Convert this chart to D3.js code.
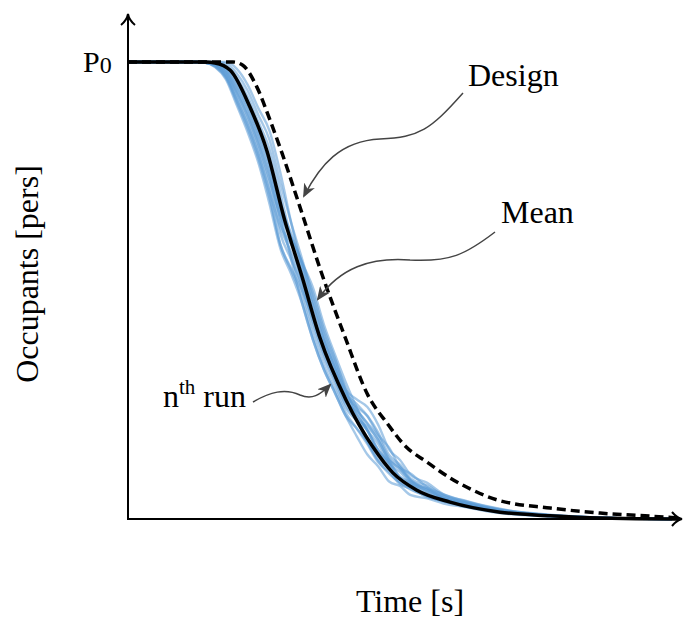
<!doctype html>
<html>
<head>
<script src="https://cdn.jsdelivr.net/npm/d3@7"></script>
<style>
  body { margin: 0; background: #fff; }
  text { font-family: "Liberation Serif", "Times New Roman", serif; fill: #000; }
</style>
</head>
<body>
<svg id="chart" width="683" height="619"></svg>
<script>
// occupants as % of P0, time in arbitrary units (0..100)
const meanTime = [0, 14.2, 16.0, 18.8, 22.4, 25.5, 28.8, 32.0, 35.3, 40.1, 45.0, 48.7, 53.1, 59.2, 68.4, 77.6, 86.8, 100, 101.5];
const meanOcc  = [100, 100, 99.8, 98.2, 90.2, 80.7, 65.4, 53.0, 39.6, 26.0, 15.8, 10.1, 6.3, 3.7, 1.5, 0.7, 0.2, 0, 0];

const designTime = [0, 19.3, 21.1, 23.7, 26.1, 28.3, 31.6, 35.7, 39.9, 44.1, 47.6, 51.1, 54.9, 59.2, 63.4, 67.8, 77.6, 86.8, 99.1, 101.5];
const designOcc  = [100, 100, 99.3, 94.5, 87.3, 80.1, 68.3, 53.4, 39.8, 27.1, 21.0, 15.8, 12.5, 9.0, 6.3, 4.2, 2.4, 1.3, 0.4, 0.2];

// single simulation runs, sampled on a common time grid
const runTime = [0, 12, 14, 16, 18, 20, 22, 24, 26, 28, 30, 32, 34, 36, 38, 40, 42, 44, 46, 48, 50, 52, 55, 58, 62, 66, 70, 75, 80, 90, 100];
const run01 = [100,100,99.9,99.1,96.7,91.5,85.9,79.3,71.0,60.1,54.4,48.3,40.3,33.6,28.5,23.3,19.9,16.4,12.4,10.3,7.6,6.6,4.8,4.0,2.8,1.9,1.3,0.8,0.45,0.1,0];
const run02 = [100,100,99.9,99.3,97.2,92.5,87.2,80.8,73.0,62.4,56.8,51.0,43.0,36.0,30.5,25.0,22.0,20.2,17.3,13.0,11.0,8.2,6.7,4.6,3.5,2.4,1.6,1.0,0.6,0.15,0];
const run03 = [100,100,100,99.5,97.7,93.5,88.5,82.3,75.0,64.6,60.0,55.0,46.8,39.3,33.3,27.6,25.2,22.6,18.9,14.0,11.9,8.8,7.3,5.2,3.8,2.6,1.7,1.1,0.6,0.2,0];
const run04 = [100,100,100,100,99.7,97.5,93.7,88.3,83.0,73.6,64.8,56.9,48.7,40.9,34.7,28.8,23.1,19.4,14.7,12.3,9.1,7.6,5.9,4.4,3.2,2.2,1.5,0.9,0.5,0.1,0];
const run05 = [100,100,100,99.6,98.2,94.5,89.8,83.8,77.0,66.9,56.8,47.2,39.2,32.7,27.7,22.6,18.2,14.1,11.5,8.2,7.2,5.2,4.5,3.4,2.6,1.7,1.1,0.7,0.4,0.05,0];
const run06 = [100,100,100,99.8,98.7,95.5,91.1,85.3,79.0,69.1,62.4,56.1,47.9,40.2,34.1,28.3,26.2,24.5,20.6,15.2,12.9,9.6,7.9,5.4,4.0,2.8,1.9,1.2,0.7,0.2,0];
const run07 = [100,100,99.9,99.2,96.9,91.9,86.4,79.9,71.8,63.7,58.4,52.2,44.9,37.6,31.9,26.3,23.0,19.4,16.4,12.1,10.3,7.7,6.4,4.6,3.4,2.3,1.5,1.0,0.55,0.1,0];
const run08 = [100,100,99.9,98.9,96.2,90.5,84.6,77.8,69.0,59.2,53.6,47.2,39.2,32.7,27.7,22.6,19.9,16.9,13.0,11.0,8.0,7.0,5.0,4.0,3.0,2.0,1.3,0.85,0.45,0.1,0];
const run09 = [100,100,100,99.9,99.2,96.5,92.4,86.8,81.0,71.4,61.2,51.8,43.8,36.6,31.1,25.6,23.7,21.0,18.0,13.3,11.4,8.5,6.7,5.0,3.6,2.5,1.7,1.05,0.6,0.15,0];
const run10 = [100,100,99.9,99.4,97.5,93.1,88.0,81.7,74.2,66.4,61.6,56.1,49.5,41.6,35.3,28.3,22.0,16.8,12.7,9.9,7.9,6.4,5.05,3.8,2.8,1.9,1.25,0.8,0.45,0.05,0];
const run11 = [100,100,100,99.5,97.9,93.9,89.0,82.9,75.8,65.5,57.6,49.9,41.9,35.0,29.7,24.3,21.6,19.4,15.1,12.6,9.3,8.1,6.0,4.5,3.3,2.3,1.5,0.95,0.55,0.1,0];
const run12 = [100,100,100,100,100,98.5,95.0,89.8,85.0,75.8,64.8,55.0,46.8,39.3,33.3,27.6,24.1,20.8,17.2,12.8,10.9,8.4,6.4,4.8,3.5,2.4,1.6,1.0,0.6,0.15,0];
const run13 = [100,100,99.9,99.0,96.5,91.1,85.4,78.7,70.2,60.1,54.8,49.9,44.1,38.6,32.7,27.0,24.5,22.5,18.4,15.6,11.4,9.9,7.0,5.4,3.9,2.7,1.8,1.1,0.65,0.2,0];
const run14 = [100,100,100,99.7,98.4,94.9,90.3,84.4,77.8,67.8,61.6,56.1,50.6,42.6,36.1,30.0,24.5,19.4,15.1,11.9,8.7,7.5,5.3,4.2,3.1,2.1,1.4,0.9,0.5,0.1,0];
const runs = [run01, run02, run03, run04, run05, run06, run07, run08, run09, run10, run11, run12, run13, run14];

const svg = d3.select("#chart");

const x = d3.scaleLinear().domain([0, 100]).range([128, 672]);
const y = d3.scaleLinear().domain([0, 100]).range([519, 62]);

const line = d3.line()
  .x(d => x(d[0]))
  .y(d => y(d[1]))
  .curve(d3.curveMonotoneX);

// runs
svg.append("g").selectAll("path.run")
  .data(runs)
  .enter()
  .append("path")
    .attr("class", "run")
    .attr("d", r => line(runTime.map((t, i) => [t, r[i]])))
    .style("fill", "none")
    .style("stroke", "#5b9bd5")
    .style("stroke-opacity", 0.55)
    .style("stroke-width", 2.4);

// mean
svg.append("path")
  .attr("d", line(meanTime.map((t, i) => [t, meanOcc[i]])))
  .style("fill", "none")
  .style("stroke", "#000")
  .style("stroke-width", 3.5);

// design
svg.append("path")
  .attr("d", line(designTime.map((t, i) => [t, designOcc[i]])))
  .style("fill", "none")
  .style("stroke", "#000")
  .style("stroke-width", 3.5)
  .style("stroke-dasharray", "9,5");

// axes (no ticks, arrow ends)
const x0 = x(0), y0 = y(0);
svg.append("line")
  .attr("x1", x0).attr("y1", y0 + 1).attr("x2", x0).attr("y2", 15)
  .style("stroke", "#000").style("stroke-width", 2);
svg.append("line")
  .attr("x1", x0 - 1).attr("y1", y0).attr("x2", 681).attr("y2", y0)
  .style("stroke", "#000").style("stroke-width", 2);
svg.append("path")
  .attr("d", `M${x0 - 7},${25} Q${x0 - 1},${20} ${x0},${14} Q${x0 + 1},${20} ${x0 + 7},${25}`)
  .style("fill", "none").style("stroke", "#000").style("stroke-width", 2);
svg.append("path")
  .attr("d", `M672,${y0 - 7} Q677,${y0 - 1} 682,${y0} Q677,${y0 + 1} 672,${y0 + 7}`)
  .style("fill", "none").style("stroke", "#000").style("stroke-width", 2);

// axis labels
svg.append("text")
  .attr("x", 410).attr("y", 612)
  .attr("text-anchor", "middle")
  .style("font-size", "32px")
  .text("Time [s]");
svg.append("text")
  .attr("transform", "translate(38,274) rotate(-90)")
  .attr("text-anchor", "middle")
  .style("font-size", "32px")
  .text("Occupants [pers]");

const p0 = svg.append("text")
  .attr("x", 83).attr("y", 72)
  .style("font-size", "30px");
p0.append("tspan").text("P");
p0.append("tspan").attr("dy", 1).style("font-size", "24px").text("0");

// annotations
svg.append("defs").append("marker")
  .attr("id", "head")
  .attr("viewBox", "0 0 14 12")
  .attr("refX", 12).attr("refY", 6)
  .attr("markerWidth", 14).attr("markerHeight", 12)
  .attr("markerUnits", "userSpaceOnUse")
  .attr("orient", "auto")
  .append("path")
    .attr("d", "M0,0 L14,6 L0,12 L4,6 Z")
    .style("fill", "#444");

const notes = [
  { label: "Design", tx: 468, ty: 86, d: "M463,93 C430,130 420,137 380,139 C340,141 320,165 304,196" },
  { label: "Mean", tx: 501, ty: 223, d: "M495,232 C465,255 450,262 410,260 C370,257 340,268 318,299" },
];
notes.forEach(n => {
  svg.append("path")
    .attr("d", n.d)
    .attr("marker-end", "url(#head)")
    .style("fill", "none").style("stroke", "#444").style("stroke-width", 1.5);
  svg.append("text").attr("x", n.tx).attr("y", n.ty).style("font-size", "32px").text(n.label);
});

svg.append("path")
  .attr("d", "M253,402 C270,392 285,388 300,395 C312,400 320,395 330,385")
  .attr("marker-end", "url(#head)")
  .style("fill", "none").style("stroke", "#444").style("stroke-width", 1.5);
const nth = svg.append("text").attr("x", 163).attr("y", 407).style("font-size", "32px");
nth.append("tspan").text("n");
nth.append("tspan").attr("dy", -13).style("font-size", "21px").text("th");
nth.append("tspan").attr("dy", 13).text(" run");
</script>
</body>
</html>
